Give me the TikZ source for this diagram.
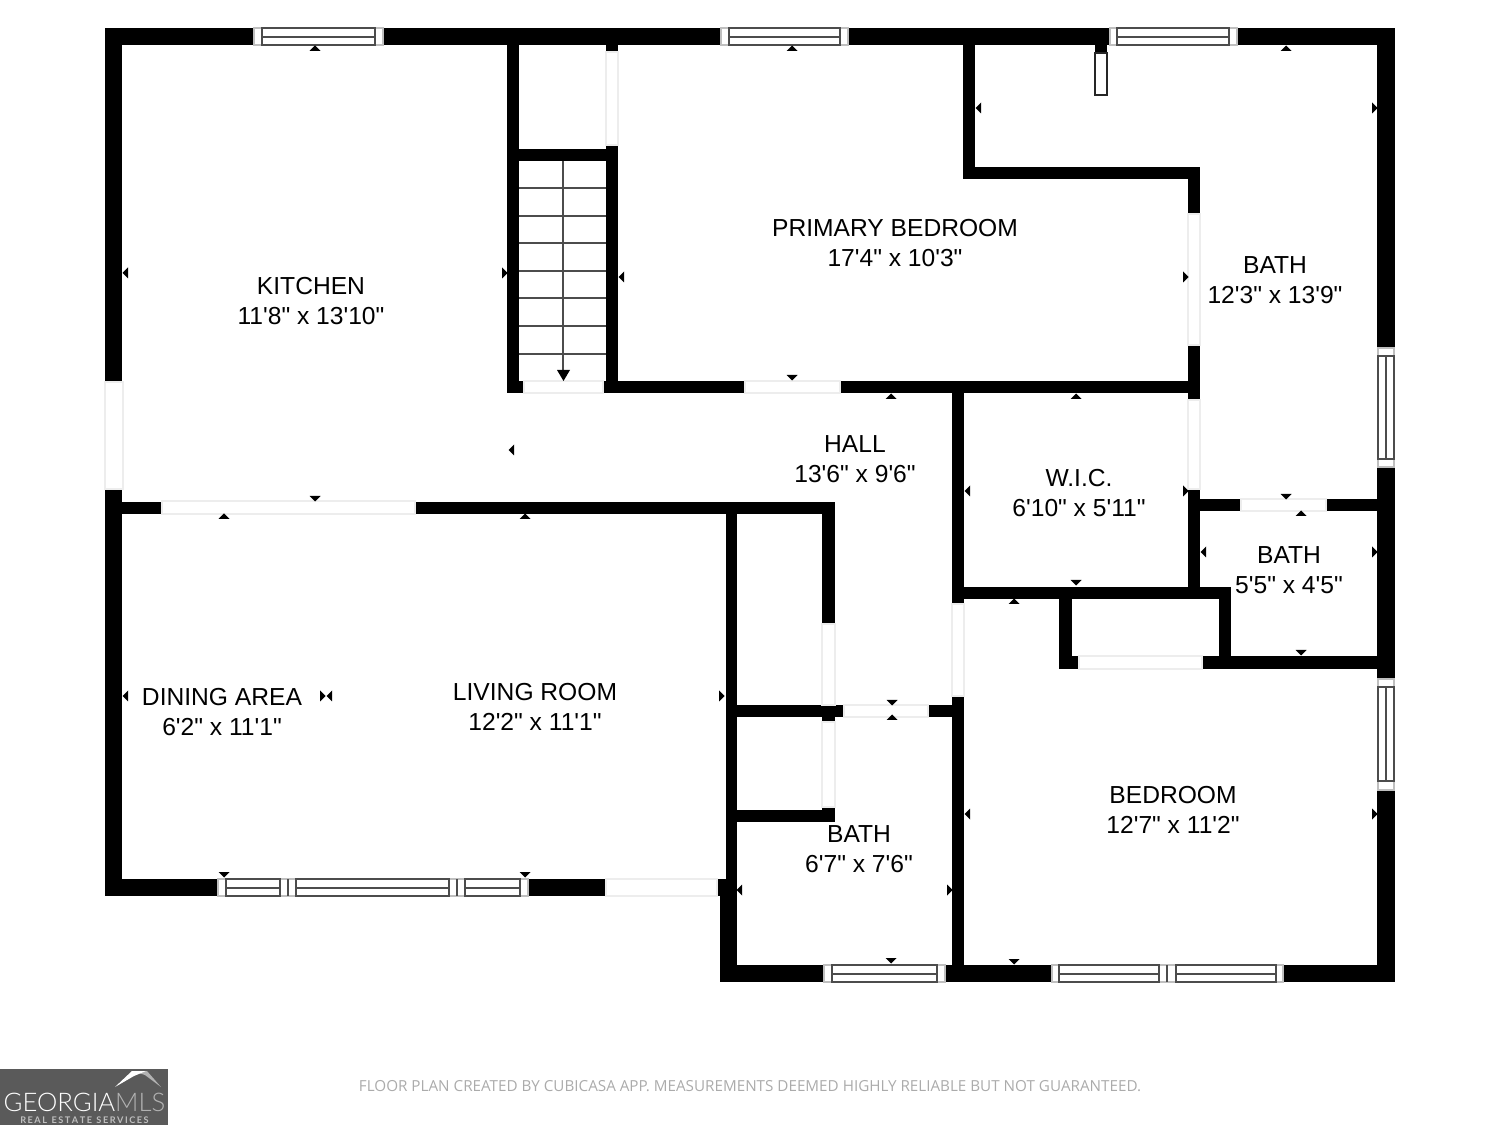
\documentclass[tikz,border=0pt]{standalone}
\usepackage{fontspec}
\newfontfamily\roomfont{Liberation Sans}
\newfontfamily\notefont{Open Sans}
\newfontfamily\logofont{Lato Light}
\newfontfamily\logoboldfont{Lato}
\definecolor{logogray}{HTML}{5A5A5A}
\tikzset{
  wall/.style={fill=black},
  framed/.style={draw=black!25, line width=0.3pt, fill=white},
  glass/.style={draw=black!70, line width=0.35pt},
  opening/.style={draw=black!7, line width=0.3pt, fill=white},
  tick/.style={fill=black},
  roomlabel/.style={font=\roomfont\fontsize{7}{8.55}\selectfont, align=center, text=black, inner sep=0pt},
}
\begin{document}
\begin{tikzpicture}[x=0.01cm, y=-0.01cm]
    \useasboundingbox (0,0) rectangle (1500,1125);

    % Walls
    \foreach \xa/\ya/\xb/\yb in {
      105/28/1395/45, 105/28/122/896, 105/879/737/896,
      720/879/737/982, 720/965/1395/982, 1377/28/1395/982,
      507/28/519/393, 507/149/618/161, 606/28/618/393,
      507/381/1200/393, 963/28/975/179, 963/167/1200/179,
      1188/167/1200/599, 122/502/835/514, 726/502/737/896,
      822/502/835/722, 737/705/964/717, 737/810/835/822,
      822/807/835/822, 952/381/964/982, 964/587/1231/599,
      1219/587/1231/669, 1059/599/1072/669, 1059/656/1377/669,
      1200/499/1377/511, 1095/45/1107/53} {
      \fill[wall] (\xa,\ya) rectangle (\xb,\yb);
    }

    % Door openings
    \foreach \xa/\ya/\xb/\yb in {
      105/382/123/489, 162/501/415/514, 606/879/717/896,
      606/52/618/145, 524/381/603/393, 745/381/840/393,
      1188/214/1200/345, 1188/400/1200/489, 1241/499/1326/511,
      1079/656/1202/669, 952/604/964/696, 844/705/928/717,
      822/624/835/705, 822/722/835/807} {
      \filldraw[opening] (\xa,\ya) rectangle (\xb,\yb);
    }

    % Closet stub
    \filldraw[draw=black!85, line width=0.4pt, fill=white] (1095,53) rectangle (1107,95);

    % Windows in the top and bottom walls
    \foreach \xa/\xb/\ia/\ib in {254/383/262/375, 721/848/729/840, 1110/1237/1117/1229} {
      \filldraw[framed] (\xa,28) rectangle (\xb,45);
      \draw[glass] (\ia,28) rectangle (\ib,45) (\ia,37) -- (\ib,37);
    }
    \filldraw[framed] (824,965) rectangle (945,982);
    \draw[glass] (832,965) rectangle (937,982) (832,974) -- (937,974);
    \filldraw[framed] (1052,965) rectangle (1283,982);
    \draw[glass] (1059,965) rectangle (1159,982) (1176,965) rectangle (1276,982)
      (1167,965) -- (1167,982) (1059,974) -- (1159,974) (1176,974) -- (1276,974);
    \filldraw[framed] (218,879) rectangle (528,896);
    \draw[glass] (226,879) rectangle (280,896) (296,879) rectangle (449,896)
      (465,879) rectangle (520,896) (288,879) -- (288,896) (457,879) -- (457,896);
    \draw[glass] (226,888) -- (280,888) (296,888) -- (449,888) (465,888) -- (520,888);

    % Windows in the right wall
    \foreach \ya/\yb/\ia/\ib in {348/467/356/459, 679/790/687/781} {
      \filldraw[framed] (1378,\ya) rectangle (1394,\yb);
      \draw[glass] (1378,\ia) rectangle (1394,\ib) (1386,\ia) -- (1386,\ib);
    }

    % Stairs
    \foreach \y in {188,216,243,271,298,326,354} {
      \draw[glass] (519,\y) -- (606,\y);
    }
    \draw[glass] (563,161) -- (563,372);
    \fill[tick] (557,370) -- (570,370) -- (563.5,381) -- cycle;

    % Measuring ticks
    \foreach \x/\y in {315/51, 792/51, 1286/51, 891/399, 1076/399, 224/519, 525/519, 1301/516, 892/720, 1014/604} {
      \fill[tick] (\x-5.5,\y) -- (\x+5.5,\y) -- (\x,\y-5.5) -- cycle;
    }
    \foreach \x/\y in {315/496, 792/375, 1286/494, 892/700, 224/872, 525/872, 1076/580, 1301/650, 891/958, 1014/959} {
      \fill[tick] (\x-5.5,\y) -- (\x+5.5,\y) -- (\x,\y+5.5) -- cycle;
    }
    \foreach \x/\y in {128/273, 981/108, 624/277, 128/696, 970/491, 514/450, 1206/552, 742/890, 970/814, 332/696} {
      \fill[tick] (\x,\y-5.5) -- (\x,\y+5.5) -- (\x-5.5,\y) -- cycle;
    }
    \foreach \x/\y in {502/273, 1372/108, 1183/277, 1183/491, 1372/552, 719/696, 947/890, 1372/814, 320/696} {
      \fill[tick] (\x,\y-5.5) -- (\x,\y+5.5) -- (\x+5.5,\y) -- cycle;
    }

    % Room labels
    \node[roomlabel] (kitchen) at (311,301) {KITCHEN\\11'8" x 13'10"};
    \node[roomlabel] (primary) at (895,243) {PRIMARY BEDROOM\\17'4" x 10'3"};
    \node[roomlabel] (bathtop) at (1275,280) {BATH\\12'3" x 13'9"};
    \node[roomlabel] (hall) at (855,459) {HALL\\13'6" x 9'6"};
    \node[roomlabel] (wic) at (1079,493) {W.I.C.\\6'10" x 5'11"};
    \node[roomlabel] (bathsmall) at (1289,570) {BATH\\5'5" x 4'5"};
    \node[roomlabel] (dining) at (222,712) {DINING AREA\\6'2" x 11'1"};
    \node[roomlabel] (living) at (535,707) {LIVING ROOM\\12'2" x 11'1"};
    \node[roomlabel] (bathlow) at (859,849) {BATH\\6'7" x 7'6"};
    \node[roomlabel] (bedroom) at (1173,810) {BEDROOM\\12'7" x 11'2"};

    % Footer
    \node[font=\notefont\fontsize{4.33}{5}\selectfont, text=black!33, inner sep=0pt] (note) at (750,1086)
      {FLOOR PLAN CREATED BY CUBICASA APP. MEASUREMENTS DEEMED HIGHLY RELIABLE BUT NOT GUARANTEED.};

    % Logo
    \fill[logogray] (0,1069) rectangle (168,1125);
    \fill[black!30] (132,1071) -- (147,1071) -- (161,1087) -- (145,1075) -- cycle;
    \fill[white] (115,1087) -- (132,1071) -- (146,1071) -- (134,1076) -- cycle;
    \node[font=\logofont\fontsize{7.3}{9}\selectfont, anchor=base west, inner sep=0pt, text=white] (georgia) at (3,1111)
      {GEORGIA\textcolor{black!30}{MLS}};
    \node[font=\logoboldfont\bfseries\fontsize{2.6}{3}\selectfont, anchor=base, inner sep=0pt, text=black!25] (services) at (84.5,1123)
      {R\,E\,A\,L\ \ E\,S\,T\,A\,T\,E\ \ S\,E\,R\,V\,I\,C\,E\,S};
\end{tikzpicture}
\end{document}
